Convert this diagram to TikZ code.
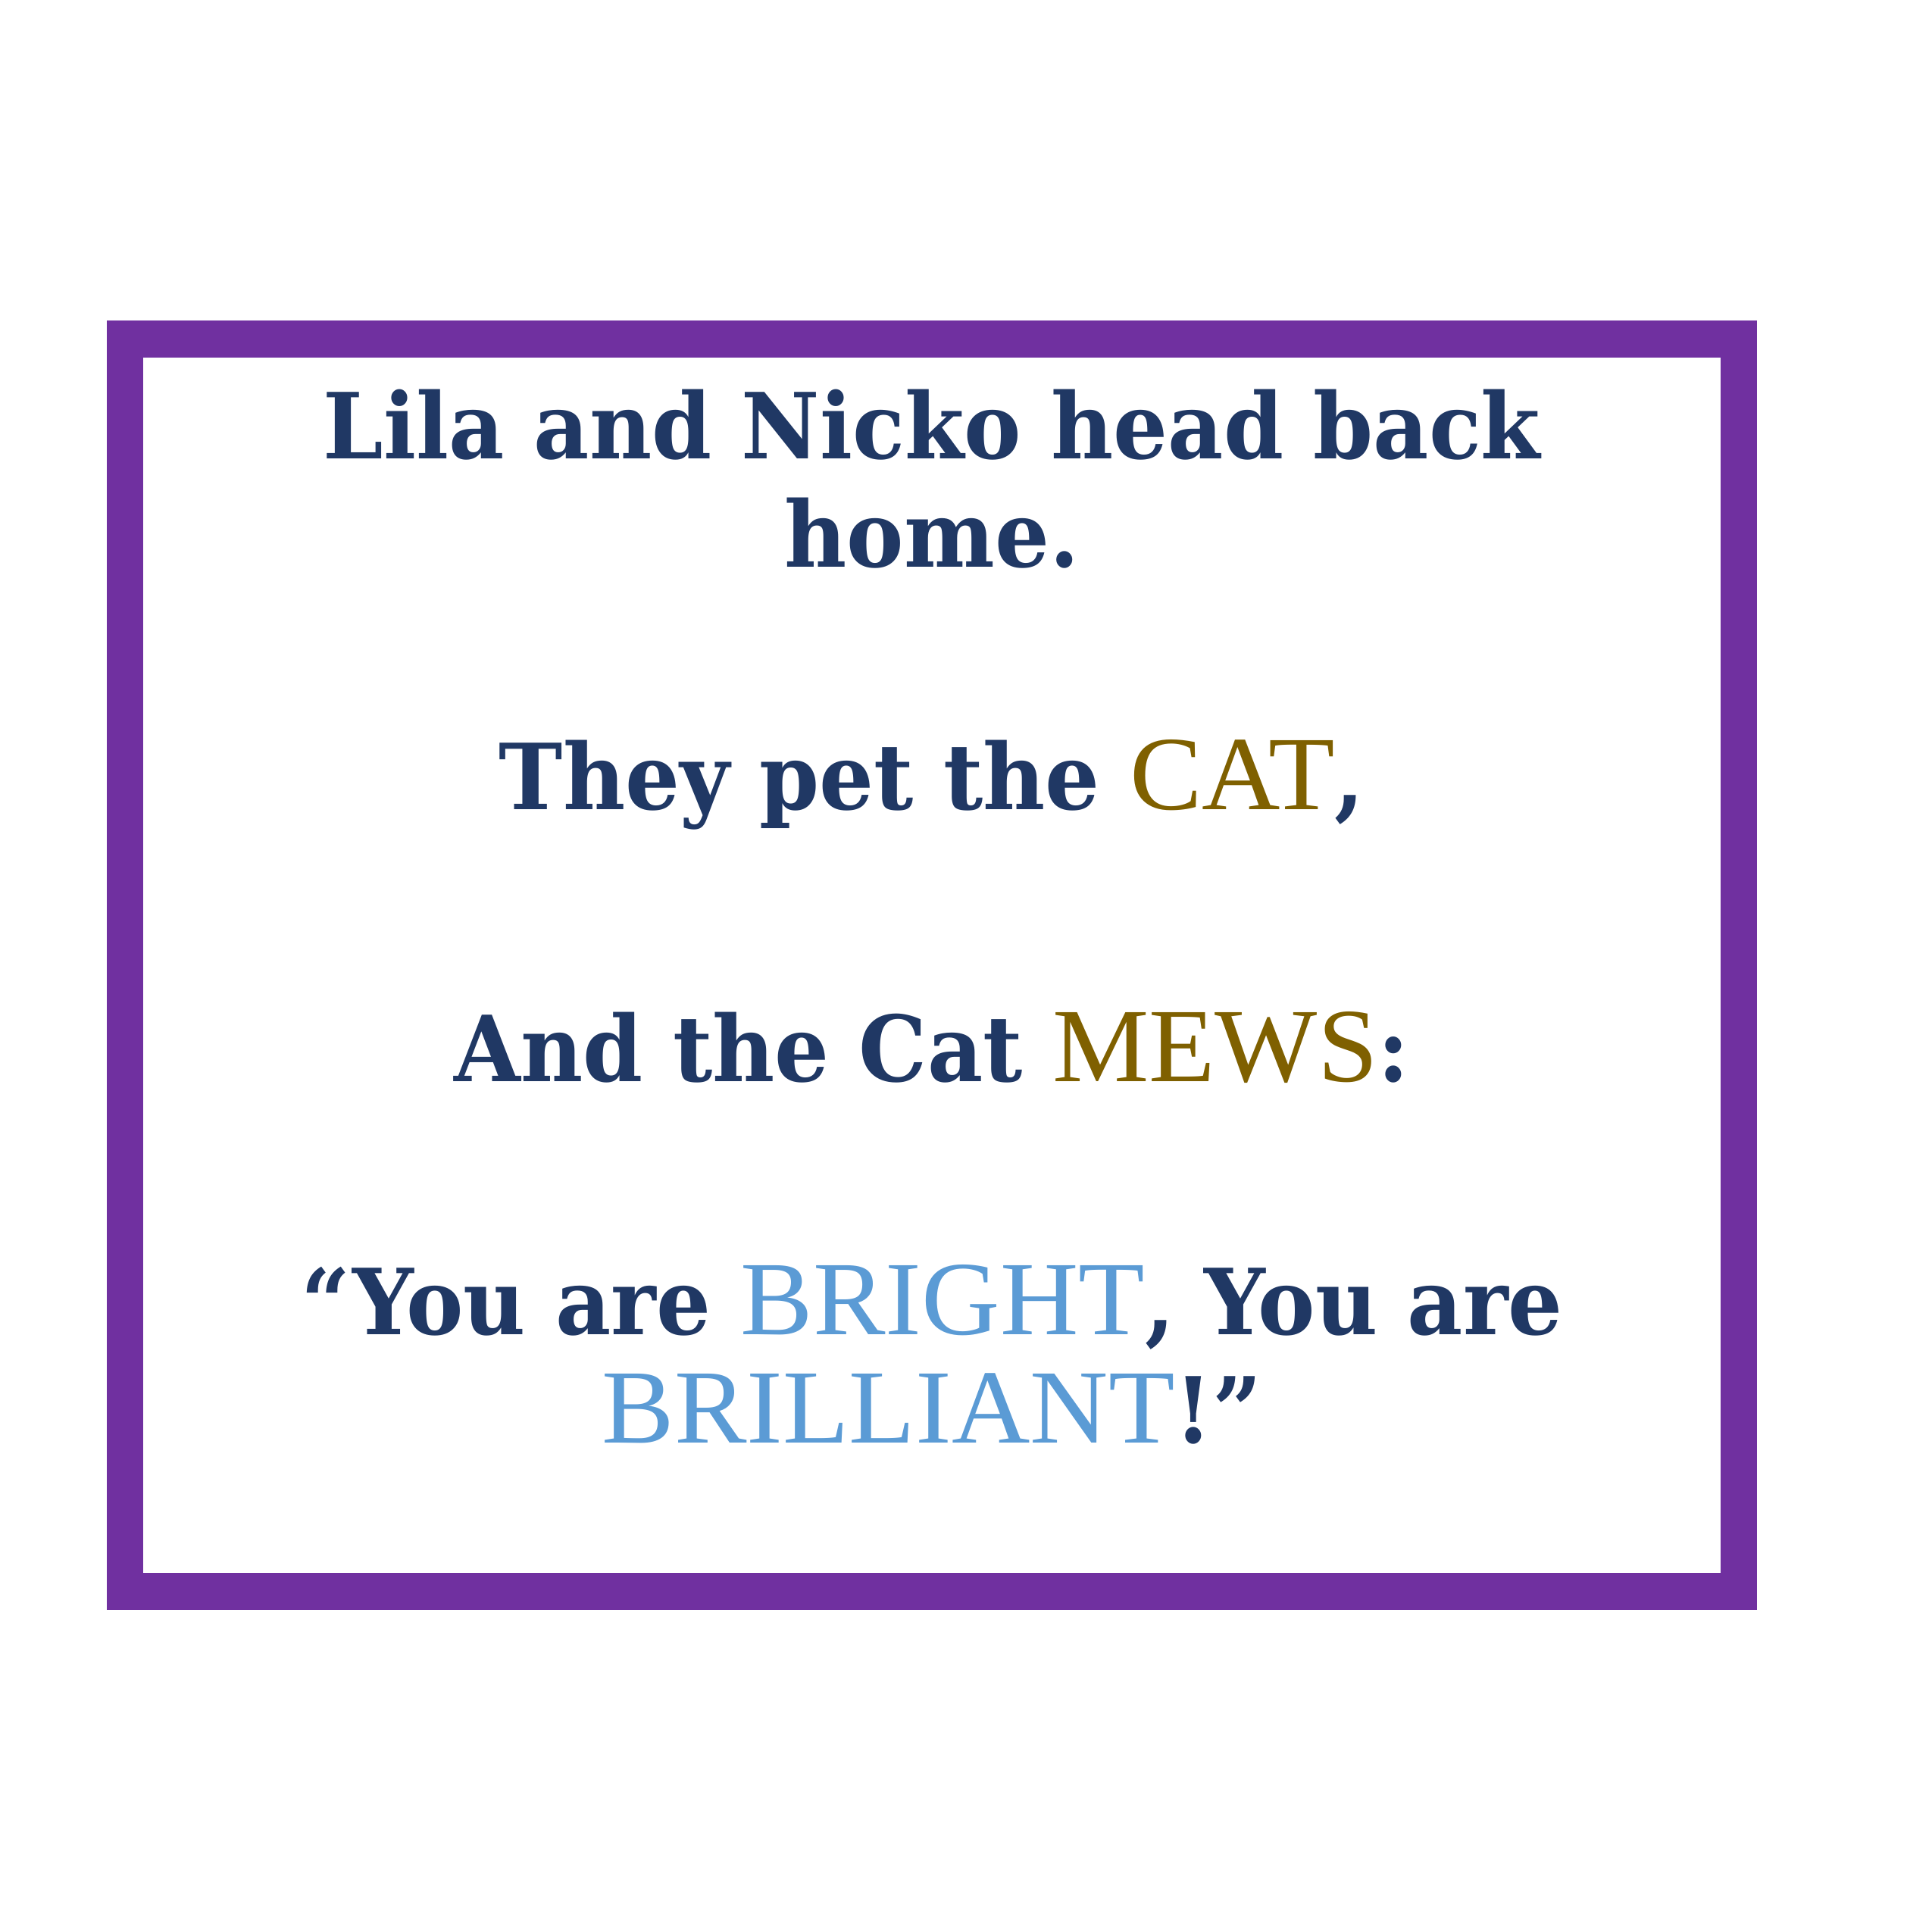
\documentclass[tikz,border=0pt]{standalone}
\usepackage{fontspec}
\setmainfont[FakeStretch = 0.94]{DejaVu Serif}
\newfontfamily\capsfont[FakeStretch = 1.03]{Liberation Serif}
\usepackage{xcolor}

\definecolor{framepurple}{HTML}{7030A0}
\definecolor{storynavy}{HTML}{203864}
\definecolor{catgold}{HTML}{7F6000}
\definecolor{brightblue}{HTML}{5B9BD5}

\newcommand{\goldword}[1]{{\capsfont\mdseries\fontsize{33.5}{34.3}\selectfont\color{catgold}#1}}
\newcommand{\blueword}[1]{{\capsfont\mdseries\fontsize{33.5}{34.3}\selectfont\color{brightblue}#1}}

\tikzset{
	storyline/.style = {anchor = base, align = center, text = storynavy,
		font = \bfseries\fontsize{29}{34.3}\selectfont, inner sep = 0pt}
}

\begin{document}
\begin{tikzpicture}[x = 1in, y = 1in]
			\useasboundingbox (0,0) rectangle (8.5,8.5);
			\def\cx{4.10};

			% page frame
			\draw[framepurple, line width = 0.163in] (0.55,1.497) rectangle (7.65,7.007);

			% two-line nodes sit on the baseline of their last line
			\node[storyline] (homeline) at (\cx,6.006) {Lila and Nicko head back\\home.};
			\node[storyline] (petline) at (\cx,4.937) {They pet the \goldword{CAT},};
			\node[storyline] (mewline) at (\cx,3.743) {And the Cat \goldword{MEWS}:};
			\node[storyline] (praiseline) at (\cx,2.153) {“You are \blueword{BRIGHT}, You are\\\blueword{BRILLIANT}!”};
		\end{tikzpicture}
\end{document}
